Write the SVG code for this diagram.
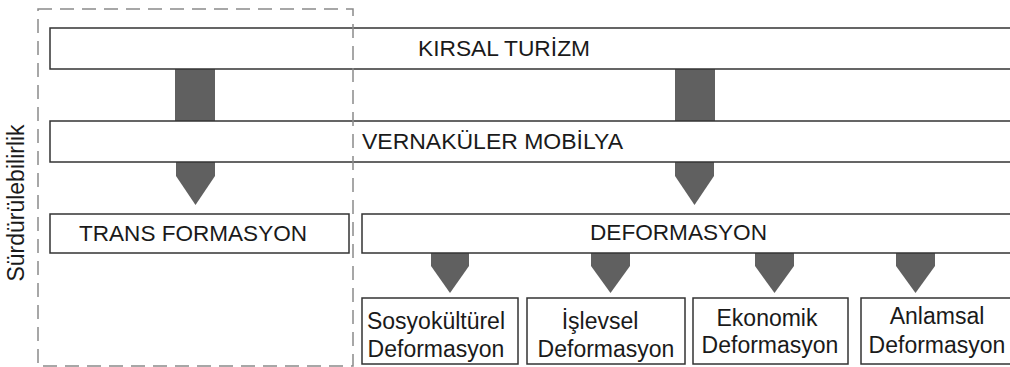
<svg xmlns="http://www.w3.org/2000/svg" width="1010" height="367" viewBox="0 0 1010 367">
<style>
.box{fill:#fff;stroke:#333;stroke-width:1.5}
.conn{fill:#606060;stroke:none}
.t{font-family:"Liberation Sans",Arial,sans-serif;font-size:22px;fill:#1a1a1a}
.s{font-size:23px}
.c{text-anchor:middle}
.dash{fill:none;stroke:#8a8a8a;stroke-width:1.5;stroke-dasharray:14 8}
</style>
<rect width="1010" height="367" fill="#fff"/>
<g id="connectors">
<rect class="conn" x="175" y="69" width="40" height="52"/>
<rect class="conn" x="675" y="69" width="40" height="52"/>
<polygon class="conn" points="176,162 215,162 215,176 195.5,205 176,176"/>
<polygon class="conn" points="675,162 714,162 714,176 694.5,205 675,176"/>
<polygon class="conn" points="431,253 469,253 469,266 450,293 431,266"/>
<polygon class="conn" points="591,253 630,253 630,266 610.5,293 591,266"/>
<polygon class="conn" points="755,253 794,253 794,266 774.5,293 755,266"/>
<polygon class="conn" points="896,253 935,253 935,266 915.5,293 896,266"/>
</g>
<g id="kirsal-turizm">
<rect class="box" x="50" y="28" width="970" height="41"/>
<text class="t" x="418" y="56" textLength="172" lengthAdjust="spacingAndGlyphs">KIRSAL TURİZM</text>
</g>
<g id="vernakuler-mobilya">
<rect class="box" x="50" y="121" width="970" height="41"/>
<text class="t" x="362" y="149" textLength="261" lengthAdjust="spacingAndGlyphs">VERNAKÜLER MOBİLYA</text>
</g>
<g id="transformasyon">
<rect class="box" x="50" y="214" width="299" height="39"/>
<text class="t" x="79" y="241" textLength="228" lengthAdjust="spacingAndGlyphs">TRANS FORMASYON</text>
</g>
<g id="deformasyon">
<rect class="box" x="362" y="214" width="658" height="39"/>
<text class="t" x="590" y="240" textLength="177" lengthAdjust="spacingAndGlyphs">DEFORMASYON</text>
</g>
<g id="sosyokulturel">
<rect class="box" x="362" y="298" width="156" height="66"/>
<text class="t s c" x="436" y="329">Sosyokültürel</text>
<text class="t s c" x="436" y="357">Deformasyon</text>
</g>
<g id="islevsel">
<rect class="box" x="527" y="298" width="158" height="66"/>
<text class="t s c" x="600" y="329">İşlevsel</text>
<text class="t s c" x="606" y="357">Deformasyon</text>
</g>
<g id="ekonomik">
<rect class="box" x="693" y="298" width="155" height="66"/>
<text class="t s c" x="767" y="326">Ekonomik</text>
<text class="t s c" x="770" y="353">Deformasyon</text>
</g>
<g id="anlamsal">
<rect class="box" x="861" y="298" width="160" height="66"/>
<text class="t s c" x="937" y="324">Anlamsal</text>
<text class="t s c" x="937" y="353">Deformasyon</text>
</g>
<g id="surdurulebilirlik">
<rect class="dash" x="38" y="9" width="315" height="357"/>
<text class="t s c" transform="translate(24,203) rotate(-90)" x="0" y="0">Sürdürülebilirlik</text>
</g>
</svg>
